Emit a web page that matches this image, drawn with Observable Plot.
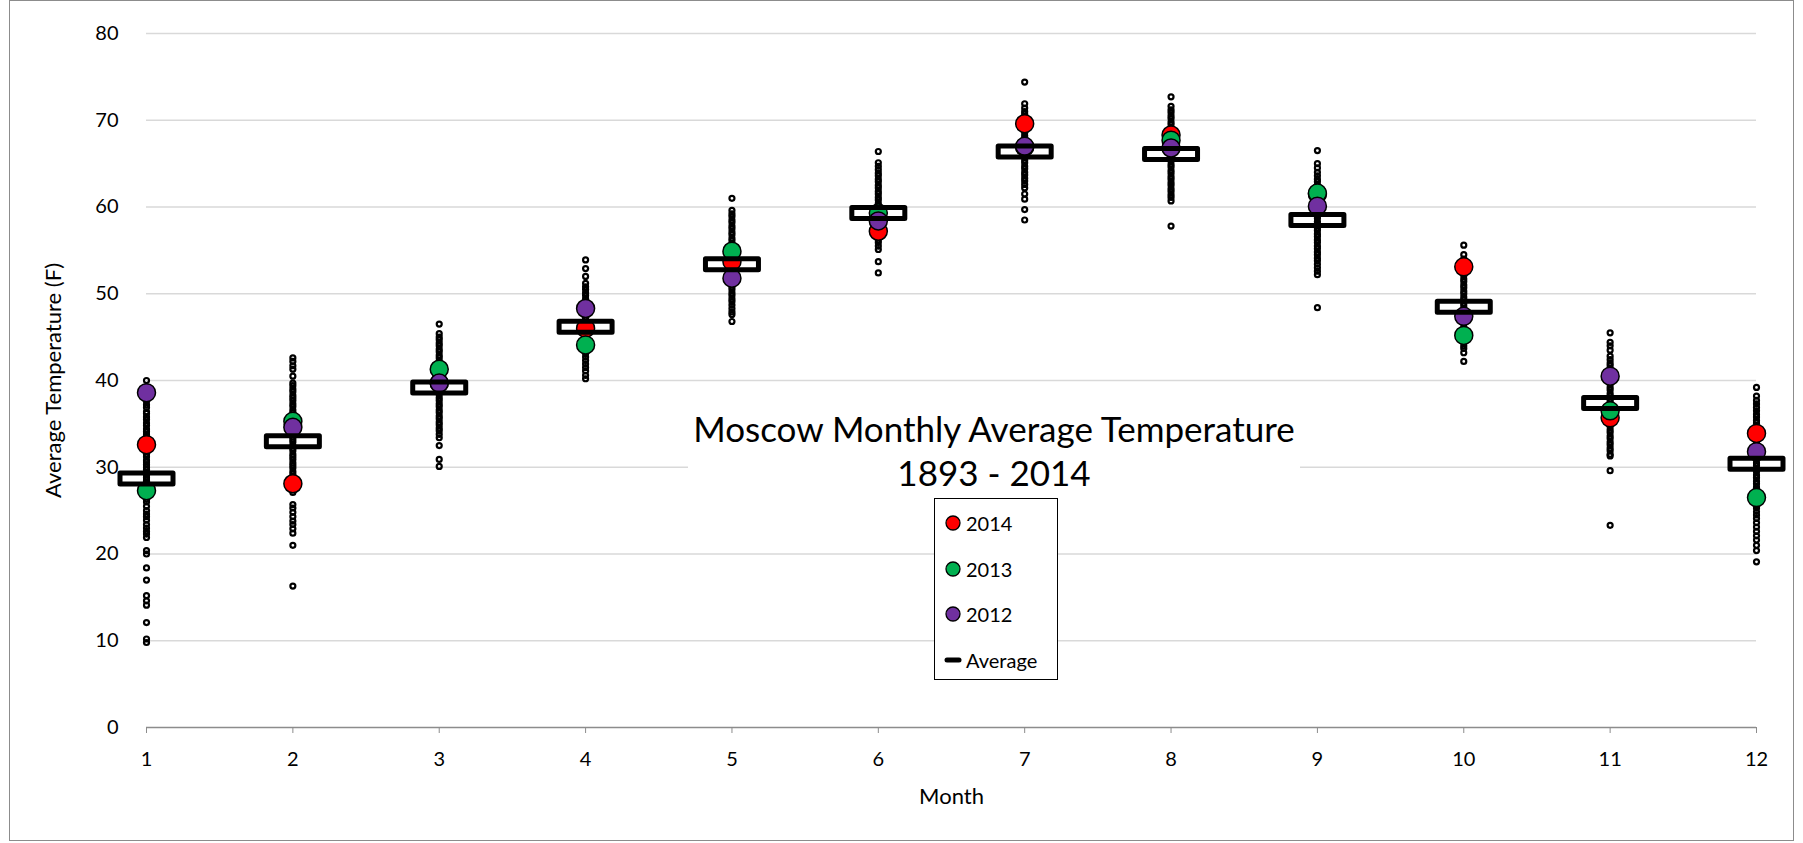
<!DOCTYPE html>
<html><head><meta charset="utf-8">
<script src="https://cdn.jsdelivr.net/npm/d3@7"></script>
<script src="https://cdn.jsdelivr.net/npm/@observablehq/plot@0.6"></script>
<style>
html,body{margin:0;padding:0;background:#fff;}
#wrap{position:relative;width:1803px;height:843px;font-family:Lato,sans-serif;color:#000;overflow:hidden;}
#frame{position:absolute;left:9px;top:0px;width:1785px;height:841px;border:1px solid #8c8c8c;box-sizing:border-box;pointer-events:none;}
#title{position:absolute;left:688px;top:406px;width:612px;height:90px;background:#fff;text-align:center;font-size:35px;line-height:44px;}
#legend{position:absolute;left:934px;top:498px;width:124px;height:182px;background:#fff;border:1.5px solid #000;box-sizing:border-box;}
.li{position:absolute;left:0;height:30px;font-size:20px;line-height:30px;}
.li svg{position:absolute;left:8px;top:5px;}
.li span{position:absolute;left:31px;white-space:nowrap;}
g[aria-label="x-axis label"], g[aria-label="y-axis label"]{font-size:22px;}
</style></head>
<body><div id="wrap"><div id="chart"></div><div id="title"></div><div id="legend"></div><div id="frame"></div></div>
<script>
const titleLines = ["Moscow Monthly Average Temperature", "1893 - 2014"];
const months = [1,2,3,4,5,6,7,8,9,10,11,12];
const yTicks = [0,10,20,30,40,50,60,70,80];

// every year 1893-2014, per month
const jan = [40.0,39.2,38.1,37.6,37.2,36.9,36.4,36.2,35.8,35.5,35.1,34.8,34.4,34.1,33.8,33.5,33.1,32.8,32.4,32.1,31.8,31.5,31.2,30.8,30.6,30.3,30.0,29.7,29.3,29.1,28.8,28.5,28.2,27.9,27.6,27.2,27.0,26.6,26.3,26.0,25.5,25.0,24.6,24.3,23.9,23.4,23.0,22.6,22.3,21.9,20.4,20.0,18.4,17.0,15.2,14.6,14.1,12.1,10.2,9.8];
const feb = [42.6,42.2,41.7,41.3,40.5,39.7,39.4,39.0,38.7,38.3,38.0,37.7,37.3,37.0,36.6,36.3,36.0,35.6,35.2,34.9,34.6,34.2,33.9,33.5,33.2,32.9,32.5,32.2,31.9,31.5,31.2,30.9,30.5,30.2,29.9,29.5,29.2,28.8,28.5,28.1,27.8,27.4,27.1,25.7,25.3,24.8,24.3,23.8,23.4,22.9,22.4,21.0,16.3];
const mar = [46.5,45.4,45.0,44.7,44.3,44.0,43.6,43.3,42.9,42.6,42.2,41.9,41.5,41.2,40.8,40.5,40.1,39.8,39.4,39.1,38.7,38.4,38.0,37.7,37.3,37.0,36.6,36.3,35.9,35.6,35.2,34.9,34.5,34.2,33.8,33.4,32.5,30.9,30.1];
const apr = [53.9,52.9,52.0,51.2,50.8,50.5,50.1,49.8,49.4,49.1,48.7,48.4,48.0,47.7,47.3,47.0,46.6,46.3,45.9,45.6,45.2,44.9,44.5,44.2,43.8,43.5,43.1,42.7,42.3,41.9,41.5,41.1,40.6,40.2];
const may = [61.0,59.6,59.2,58.9,58.5,58.2,57.8,57.5,57.1,56.8,56.4,56.1,55.7,55.4,55.0,54.7,54.3,54.0,53.6,53.3,52.9,52.6,52.2,51.9,51.5,51.2,50.8,50.5,50.1,49.8,49.4,49.1,48.7,48.3,47.9,47.6,46.8];
const jun = [66.4,65.1,64.7,64.3,63.9,63.6,63.2,62.9,62.5,62.2,61.8,61.5,61.1,60.8,60.4,60.1,59.7,59.4,59.0,58.7,58.3,58.0,57.6,57.3,56.9,56.6,56.2,55.9,55.5,55.1,53.7,52.4];
const jul = [74.4,71.9,71.4,71.0,70.7,70.3,70.0,69.6,69.3,68.9,68.6,68.2,67.9,67.5,67.2,66.8,66.5,66.1,65.8,65.4,65.1,64.7,64.4,64.0,63.7,63.3,63.0,62.6,62.2,61.5,60.9,59.7,58.5];
const aug = [72.7,71.6,71.2,70.9,70.5,70.2,69.8,69.5,69.1,68.8,68.4,68.1,67.7,67.4,67.0,66.7,66.3,66.0,65.6,65.3,64.9,64.6,64.2,63.9,63.5,63.2,62.8,62.5,62.1,61.8,61.4,61.1,60.7,57.8];
const sep = [66.5,65.0,64.5,64.0,63.6,63.2,62.9,62.5,62.2,61.8,61.5,61.1,60.8,60.4,60.1,59.7,59.4,59.0,58.7,58.3,58.0,57.6,57.3,56.9,56.6,56.2,55.9,55.5,55.2,54.8,54.5,54.1,53.8,53.4,53.0,52.6,52.2,48.4];
const oct = [55.6,54.5,54.0,53.6,53.2,52.8,52.4,52.1,51.7,51.4,51.0,50.7,50.3,50.0,49.6,49.3,48.9,48.6,48.2,47.9,47.5,47.2,46.8,46.5,46.1,45.8,45.4,45.1,44.7,44.4,44.0,43.7,43.2,42.2];
const nov = [45.5,44.4,44.0,43.5,42.8,42.4,42.0,41.7,41.3,41.0,40.6,40.3,39.9,39.6,39.2,38.9,38.5,38.2,37.8,37.5,37.1,36.8,36.4,36.1,35.7,35.4,35.0,34.7,34.3,34.0,33.6,33.3,32.9,32.6,32.2,31.9,31.5,31.3,29.6,23.3];
const dec = [39.2,38.2,37.7,37.3,36.9,36.5,36.1,35.8,35.4,35.1,34.7,34.4,34.0,33.7,33.3,33.0,32.6,32.3,31.9,31.6,31.2,30.9,30.5,30.2,29.8,29.5,29.1,28.8,28.4,28.1,27.7,27.4,27.0,26.7,26.3,26.0,25.6,25.3,24.9,24.5,24.1,23.6,23.1,22.6,22.1,21.6,21.0,20.4,19.1];
const allYears = [jan,feb,mar,apr,may,jun,jul,aug,sep,oct,nov,dec];

const y2014 = [32.6,28.1,39.7,46.0,53.7,57.2,69.6,68.3,61.5,53.1,35.7,33.9];
const y2013 = [27.3,35.3,41.3,44.1,54.9,59.3,66.9,67.7,61.6,45.2,36.5,26.5];
const y2012 = [38.6,34.6,39.7,48.3,51.8,58.4,67.0,66.8,60.1,47.4,40.5,31.8];
const average = [28.7,33.0,39.2,46.2,53.4,59.3,66.4,66.1,58.5,48.5,37.4,30.4];

const seriesNames = ["2014","2013","2012","Average"];
const seriesColors = ["#ff0000","#00b050","#7030a0","#000000"];

const allData = months.flatMap((m,i)=>allYears[i].map(t=>({month:m,temp:t})));
const pts = arr => months.map((m,i)=>({month:m,temp:arr[i]}));

const boxSymbol = {draw(ctx){ ctx.rect(-26.5,-5.5,53,11); }};

const chart = Plot.plot({
  width:1803, height:843,
  marginLeft:146, marginRight:47, marginTop:33, marginBottom:116,
  style:{fontFamily:"Lato, sans-serif", fontSize:"20px", color:"#000", background:"transparent", overflow:"visible"},
  x:{type:"linear", domain:[1,12]},
  y:{domain:[0,80]},
  marks:[
    Plot.gridY(yTicks.filter(d=>d>0), {stroke:"#d9d9d9", strokeOpacity:1, strokeWidth:1.5}),
    Plot.ruleY([0], {stroke:"#8c8c8c", strokeWidth:1.5}),
    Plot.axisX({ticks:months, tickFormat:d=>String(d), tickSize:6, tickPadding:18, stroke:"#8c8c8c", label:"Month", labelAnchor:"center", labelArrow:"none", labelOffset:76, fontSize:20}),
    Plot.axisY({ticks:yTicks, tickSize:0, tickPadding:28, label:"Average Temperature (F)", labelAnchor:"center", labelArrow:"none", labelOffset:101, fontSize:20}),
    Plot.dot(allData, {x:"month", y:"temp", r:2.5, stroke:"#000", strokeWidth:2.2, fill:"none"}),
    Plot.dot(pts(y2014), {x:"month", y:"temp", r:9, fill:seriesColors[0], stroke:"#000", strokeWidth:1.5}),
    Plot.dot(pts(y2013), {x:"month", y:"temp", r:9, fill:seriesColors[1], stroke:"#000", strokeWidth:1.5}),
    Plot.dot(pts(y2012), {x:"month", y:"temp", r:9, fill:seriesColors[2], stroke:"#000", strokeWidth:1.5}),
    Plot.dot(pts(average), {x:"month", y:"temp", symbol:boxSymbol, r:10, fill:"none", stroke:"#000", strokeWidth:5, strokeLinejoin:"round"})
  ]
});
document.getElementById("chart").appendChild(chart);

document.getElementById("title").innerHTML = titleLines.join("<br>");
const leg = document.getElementById("legend");
seriesNames.forEach((name,i)=>{
  const d = document.createElement("div");
  d.className="li";
  d.style.top = (9 + i*45.5) + "px";
  const sym = i<3
    ? `<svg width="20" height="20"><circle cx="10" cy="10" r="7" fill="${seriesColors[i]}" stroke="#000" stroke-width="1.3"/></svg>`
    : `<svg width="20" height="20"><line x1="4" y1="10" x2="16" y2="10" stroke="#000" stroke-width="5" stroke-linecap="round"/></svg>`;
  d.innerHTML = sym + `<span>${name}</span>`;
  leg.appendChild(d);
});
</script>
</body></html>
